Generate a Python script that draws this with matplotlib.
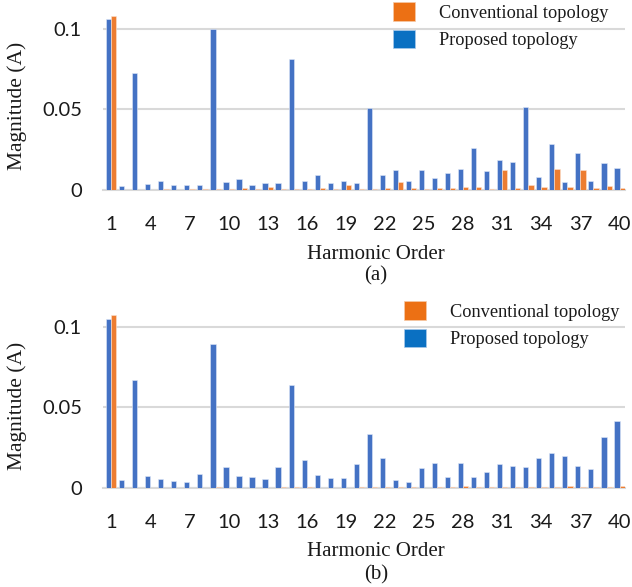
import numpy as np
import matplotlib
matplotlib.use('Agg')
import matplotlib.pyplot as plt
from matplotlib.patches import Patch

# harmonic orders 1..40
orders = np.arange(1, 41)
tick_orders = [1, 4, 7, 10, 13, 16, 19, 22, 25, 28, 31, 34, 37, 40]

# (a) magnitudes in A
prop_a = [0.106, 0.0027, 0.0725, 0.0038, 0.0058, 0.0033, 0.0033, 0.0030, 0.100, 0.0052,
          0.0070, 0.0033, 0.0042, 0.0046, 0.081, 0.0054, 0.0094, 0.0046, 0.0058, 0.0046,
          0.0506, 0.0090, 0.0125, 0.0054, 0.0123, 0.0073, 0.0104, 0.0129, 0.0260, 0.0119,
          0.0188, 0.0173, 0.0513, 0.0083, 0.0285, 0.0050, 0.0229, 0.0056, 0.0167, 0.0135]
conv_a = [0.108, 0.0003, 0.0003, 0.0003, 0.0008, 0.0003, 0.0008, 0.0005, 0.0005, 0.0005,
          0.0010, 0.0005, 0.0017, 0.0008, 0.0005, 0.0008, 0.0011, 0.0008, 0.0030, 0.0008,
          0.0008, 0.0011, 0.0048, 0.0010, 0.0008, 0.0011, 0.0011, 0.0017, 0.0021, 0.0008,
          0.0123, 0.0015, 0.0031, 0.0021, 0.0131, 0.0019, 0.0123, 0.0011, 0.0027, 0.0015]

# (b) magnitudes in A
prop_b = [0.105, 0.0052, 0.0673, 0.0075, 0.0054, 0.0042, 0.0035, 0.0089, 0.0893, 0.0131,
          0.0073, 0.0069, 0.0058, 0.0129, 0.0640, 0.0176, 0.0081, 0.0064, 0.0064, 0.0151,
          0.0334, 0.0185, 0.0048, 0.0039, 0.0123, 0.0156, 0.0070, 0.0156, 0.0070, 0.0100,
          0.0151, 0.0139, 0.0131, 0.0187, 0.0220, 0.0199, 0.0135, 0.0118, 0.0318, 0.0415]
conv_b = [0.107, 0.0003, 0.0003, 0.0003, 0.0003, 0.0003, 0.0003, 0.0003, 0.0005, 0.0003,
          0.0003, 0.0003, 0.0003, 0.0005, 0.0005, 0.0005, 0.0003, 0.0003, 0.0003, 0.0005,
          0.0005, 0.0005, 0.0005, 0.0005, 0.0003, 0.0005, 0.0005, 0.0010, 0.0005, 0.0005,
          0.0005, 0.0005, 0.0005, 0.0005, 0.0007, 0.0015, 0.0005, 0.0007, 0.0005, 0.0013]

BLUE = '#4472C4'
ORANGE = '#ED7D31'
GRID = '#d9d9d9'
SERIF = 'Liberation Serif'
SANS = 'Lato'

W, H = 632, 587
fig = plt.figure(figsize=(W / 100, H / 100), dpi=100)

left = 102.8 / W
width = (625.4 - 102.8) / W
height = 185.4 / H


def draw_panel(ax, prop, conv, tag, ylab_y, xlab_y, tag_y, leg_x, leg_y):
    w = 0.4
    ax.bar(orders - w / 2, prop, width=w, color=BLUE, edgecolor='#dfe7f7', linewidth=0.4, zorder=3)
    ax.bar(orders + w / 2, conv, width=w, color=ORANGE, edgecolor='#fbe2d2', linewidth=0.4, zorder=3)
    ax.set_xlim(0.35, 40.45)
    ax.set_ylim(0, 0.115)
    ax.set_xticks(tick_orders)
    ax.set_xticklabels([str(t) for t in tick_orders])
    ax.set_yticks([0, 0.05, 0.1])
    ax.set_yticklabels(['0', '0.05', '0.1'])
    ax.tick_params(length=0, labelsize=14.5, colors='#1a1a1a')
    ax.tick_params(axis='y', pad=15)
    ax.tick_params(axis='x', pad=18.5)
    for lab in ax.get_xticklabels() + ax.get_yticklabels():
        lab.set_family(SANS)
    for s in ['top', 'right', 'left']:
        ax.spines[s].set_visible(False)
    ax.spines['bottom'].set_color(GRID)
    ax.spines['bottom'].set_linewidth(1.5)
    ax.yaxis.grid(True, color=GRID, linewidth=1.5)
    ax.set_axisbelow(True)
    ax.set_ylabel('Magnitude (A)', family=SERIF, fontsize=15.5, color='#1a1a1a')
    ax.yaxis.set_label_coords(-0.145, ylab_y)
    ax.text(0.523, xlab_y, 'Harmonic Order', transform=ax.transAxes, ha='center', va='center',
            family=SERIF, fontsize=15, color='#1a1a1a')
    ax.text(0.523, tag_y, tag, transform=ax.transAxes, ha='center', va='center',
            family=SERIF, fontsize=15, color='#1a1a1a')
    handles = [Patch(facecolor='#EC7014', edgecolor='#f5c9a6', linewidth=0.5, label='Conventional topology'),
               Patch(facecolor='#0A70C2', edgecolor='#a9c9ea', linewidth=0.5, label='Proposed topology')]
    leg = ax.legend(handles=handles, loc='upper left', bbox_to_anchor=(leg_x, leg_y),
                    frameon=False, borderpad=0, borderaxespad=0, handlelength=1.2, handleheight=1.2,
                    handletextpad=1.3, labelspacing=0.44,
                    prop={'family': SERIF, 'size': 13.2})
    for t in leg.get_texts():
        t.set_color('#1a1a1a')


ax1 = fig.add_axes([left, (H - 190) / H, width, height])
draw_panel(ax1, prop_a, conv_a, '(a)', 0.453, -0.346, -0.464, 0.555, 1.014)

ax2 = fig.add_axes([left, (H - 488) / H, width, height])
draw_panel(ax2, prop_b, conv_b, '(b)', 0.442, -0.340, -0.469, 0.576, 1.0086)

fig.savefig('out.png', dpi=100)
